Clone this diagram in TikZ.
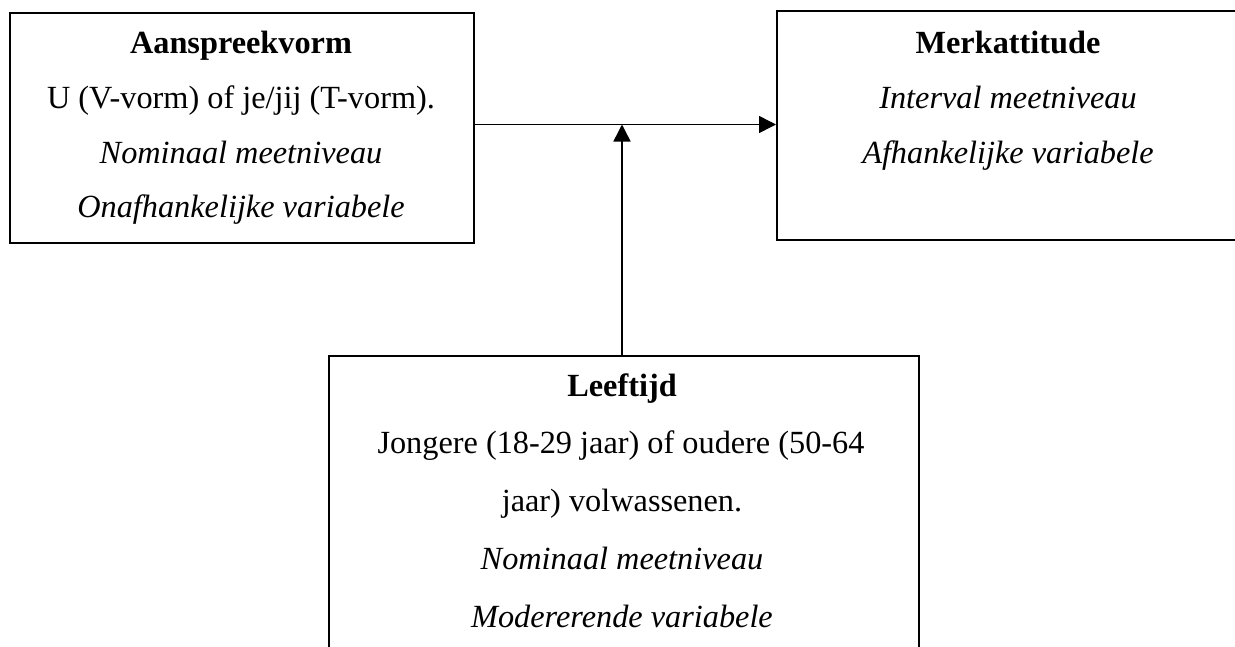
\documentclass[tikz,border=0pt]{standalone}
\usepackage{fontspec}
\setmainfont{Liberation Serif}
\usetikzlibrary{arrows.meta}
\begin{document}
\begin{tikzpicture}[x=1pt,y=-1pt,
  box/.style={draw=black, line width=1.5pt, rectangle, inner sep=0pt, anchor=north west},
  txt/.style={anchor=base, inner sep=0pt, font=\fontsize{32.3}{38}\selectfont},
  ttl/.style={txt, font=\fontsize{32.3}{38}\selectfont\bfseries},
  itx/.style={txt, font=\fontsize{32.3}{38}\selectfont\itshape},
  arr/.style={line width=1.5pt, -{Triangle[length=17pt,width=17pt]}}]
\clip (0,0) rectangle (1235,646);
\fill[white] (0,0) rectangle (1235,646);
\node[box, minimum width=464pt, minimum height=230pt] (left) at (9,12) {};
\node[box, minimum width=464pt, minimum height=229pt] (right) at (776,10) {};
\node[box, minimum width=590pt, minimum height=330pt] (bottom) at (328,355) {};
% left box text
\node[ttl] (l1) at (241,53) {Aanspreekvorm};
\node[txt] (l2) at (241,108) {U (V-vorm) of je/jij (T-vorm).};
\node[itx] (l3) at (241,163) {Nominaal meetniveau};
\node[itx] (l4) at (241,217) {Onafhankelijke variabele};
% right box text
\node[ttl] (r1) at (1008,53) {Merkattitude};
\node[itx] (r2) at (1008,108) {Interval meetniveau};
\node[itx] (r3) at (1008,163) {Afhankelijke variabele};
% bottom box text
\node[ttl] (b1) at (622,396) {Leeftijd};
\node[txt] (b2) at (621,453) {Jongere (18-29 jaar) of oudere (50-64};
\node[txt] (b3) at (622,511) {jaar) volwassenen.};
\node[itx] (b4) at (622,569) {Nominaal meetniveau};
\node[itx] (b5) at (622,627) {Modererende variabele};
% connectors
\coordinate (j) at (622,124.5);
\draw[arr] (left.east |- j) -- (right.west |- j);
\draw[arr] (bottom.north -| j) -- (j);
\end{tikzpicture}
\end{document}
